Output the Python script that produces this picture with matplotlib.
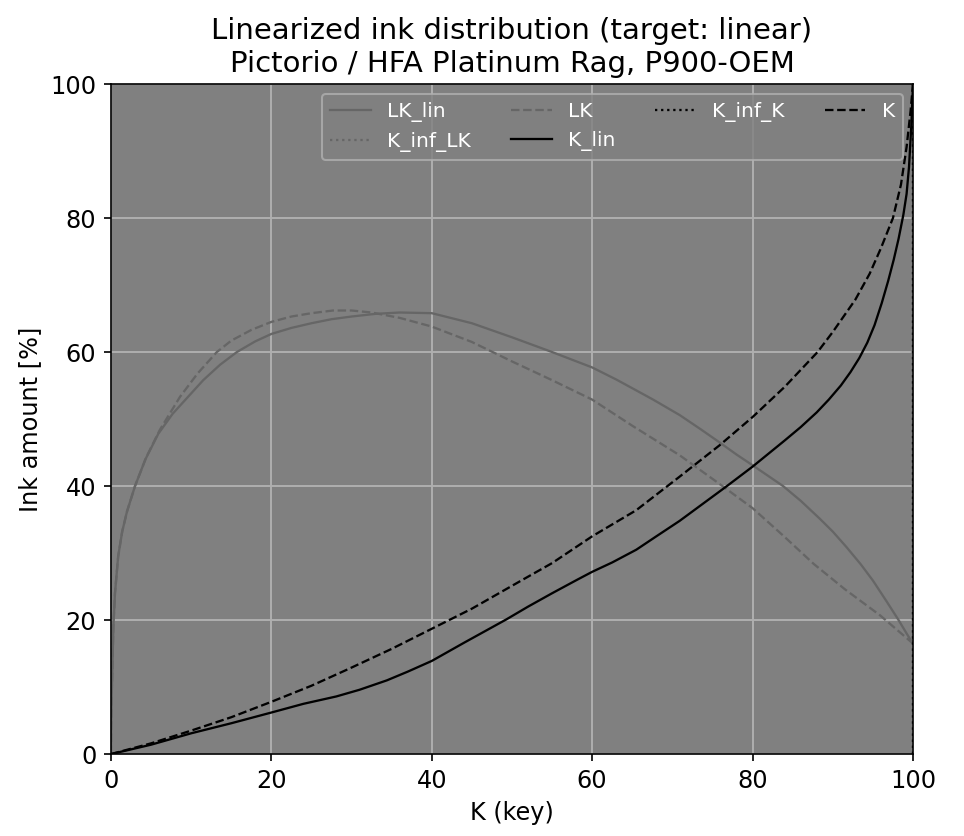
import matplotlib
matplotlib.use('Agg')
import matplotlib.pyplot as plt

plt.rcParams['font.size'] = 11.5

# LK_lin (solid gray)
lk_lin_x = [0, 0.03, 0.1, 0.2, 0.3, 0.5, 0.9, 1.4, 2, 3, 4.3, 5.9, 7.7, 9.6, 11.5, 13.6,
            15.7, 18, 20, 22.5, 25, 27.5, 30, 33, 36, 40, 45, 50, 55, 60, 63, 65, 67.6,
            70.9, 73.5, 75.9, 78, 80, 83.8, 86, 88.4, 90, 91.7, 93.5, 95, 96.7, 98.2, 99.2, 100]
lk_lin_y = [0, 4, 9, 14, 19, 24, 29.5, 33.2, 36.2, 40, 44, 47.8, 50.8, 53.3, 55.8, 58.1,
            60, 61.6, 62.7, 63.6, 64.3, 64.9, 65.3, 65.7, 65.9, 65.8, 64.3, 62.2, 60.0, 57.7, 55.9, 54.6, 52.9,
            50.6, 48.5, 46.5, 44.7, 43.1, 40.0, 37.8, 35.1, 33.2, 30.9, 28.3, 25.9, 22.8, 20.0, 18.0, 16.5]

# LK (dashed gray)
lk_x = [0, 0.03, 0.1, 0.2, 0.3, 0.5, 0.9, 1.4, 2, 3, 4.4, 6.1, 8.6, 10.8, 13.2, 15, 17.5,
        20, 22.5, 25, 27.7, 30, 32.5, 36, 40, 45, 50, 55, 60, 65, 70.9, 75.9, 80, 84,
        87.6, 91.5, 95.9, 100]
lk_y = [0, 4, 9, 14, 19, 24, 29.5, 33.2, 36.2, 40, 44.3, 48.4, 53.3, 56.8, 60, 61.7, 63.3,
        64.5, 65.3, 65.8, 66.2, 66.2, 65.9, 65.1, 63.8, 61.5, 58.6, 55.8, 52.9, 49.0, 44.6, 40.3, 36.7, 32.4,
        28.4, 24.6, 20.7, 16.5]

# K_lin (solid black)
k_lin_x = [0, 5, 10, 15, 20, 24, 28.1, 31, 34.4, 37, 40, 44, 49.3, 52, 55, 58.1, 60, 62.5,
           65.5, 68, 70.9, 76.8, 80, 84, 86, 88, 89.5, 91, 92.2, 93.3, 94.3, 95.2, 96.1,
           96.9, 97.6, 98.2, 98.8, 99.2, 99.5, 99.8, 100]
k_lin_y = [0, 1.4, 3.1, 4.6, 6.2, 7.5, 8.6, 9.6, 11.0, 12.3, 13.9, 16.6, 20.1, 22.0, 24.0, 26.0,
           27.2, 28.6, 30.5, 32.5, 34.8, 40.0, 42.9, 46.8, 48.8, 51.0, 52.9, 55.0, 57.0, 59.1, 61.4,
           64.0, 67.3, 70.6, 73.8, 76.9, 80.5, 83.6, 87.6, 94, 100]

# K (dashed black)
k_x = [0, 5, 10, 15, 20, 25, 29.8, 35, 40, 45, 51.6, 55, 60, 65.5, 70.9, 75.9, 80, 84,
       88.1, 90, 92.8, 94.6, 96, 97.5, 98.5, 99.2, 99.7, 100]
k_y = [0, 1.6, 3.5, 5.5, 7.8, 10.2, 12.8, 15.7, 18.7, 21.7, 26.2, 28.5, 32.5, 36.4, 41.4, 46.1,
       50.3, 54.8, 60, 63, 67.8, 71.7, 75.5, 80, 85, 90.6, 96, 100]

# inflection markers
k_inf_lk_x = [100, 100]
k_inf_lk_y = [0, 100]
k_inf_k_x = [100, 100]
k_inf_k_y = [0, 100]

fig = plt.figure(figsize=(964 / 150, 836 / 150), dpi=150)
ax = fig.add_axes([0.1151, 0.098, 0.832, 0.8015])
ax.set_facecolor('#808080')

gray = '#666666'
ax.plot(lk_lin_x, lk_lin_y, '-', color=gray, lw=1.1, label='LK_lin')
ax.plot(k_inf_lk_x, k_inf_lk_y, ':', color=gray, lw=1.1, label='K_inf_LK')
ax.plot(lk_x, lk_y, '--', color=gray, lw=1.1, label='LK')
ax.plot(k_lin_x, k_lin_y, '-', color='black', lw=1.1, label='K_lin')
ax.plot(k_inf_k_x, k_inf_k_y, ':', color='black', lw=1.1, label='K_inf_K')
ax.plot(k_x, k_y, '--', color='black', lw=1.1, label='K')

ax.set_xlim(0, 100)
ax.set_ylim(0, 100)
ax.grid(True, color='#b0b0b0', lw=0.9)
ax.set_axisbelow(True)
ax.set_xlabel('K (key)')
ax.set_ylabel('Ink amount [%]')
ax.set_title('Linearized ink distribution (target: linear)\nPictorio / HFA Platinum Rag, P900-OEM',
             fontsize=14)

leg = ax.legend(loc='upper right', ncol=4, fontsize=9.7, facecolor='#808080',
                edgecolor='#b0b0b0', labelcolor='white')

fig.savefig('out.png', dpi=150)
